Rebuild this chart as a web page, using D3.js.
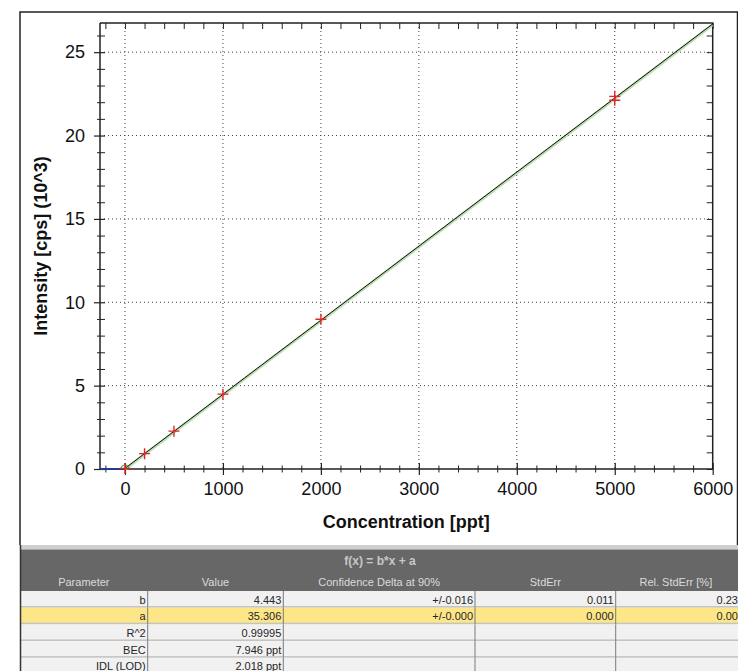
<!DOCTYPE html>
<html>
<head>
<meta charset="utf-8">
<script src="https://cdn.jsdelivr.net/npm/d3@7"></script>
<style>
  html, body { margin: 0; padding: 0; background: #fff; }
  svg { display: block; }
  text { font-family: "Liberation Sans", Arial, sans-serif; }
</style>
</head>
<body>
<svg id="chart" width="738" height="671"></svg>
<script>
// Calibration standards: concentration [ppt] and measured intensity [10^3 cps]
const concentrations = [0, 200, 500, 1000, 2000, 5000, 5000];
const intensities    = [0.03, 0.92, 2.27, 4.49, 8.98, 22.35, 22.12];

// Linear fit f(x) = b*x + a (intensity in cps)
const fitB = 4.443;
const fitA = 35.306;

// Axis ticks
const xMajorTicks = [0, 1000, 2000, 3000, 4000, 5000, 6000];
const yMajorTicks = [0, 5, 10, 15, 20, 25];

// Fit statistics table
const tableTitle = "f(x) = b*x + a";
const tableHeaders = ["Parameter", "Value", "Confidence Delta at 90%", "StdErr", "Rel. StdErr [%]"];
const tableRows = [
  ["b", "4.443", "+/-0.016", "0.011", "0.23"],
  ["a", "35.306", "+/-0.000", "0.000", "0.00"],
  ["R^2", "0.99995", "", "", ""],
  ["BEC", "7.946 ppt", "", "", ""],
  ["IDL (LOD)", "2.018 ppt", "", "", ""]
];
const highlightedRow = 1;

const svg = d3.select("#chart");

// ---- plot geometry ----
const plot = { left: 100, right: 712.7, top: 23, bottom: 469 };

const x = d3.scaleLinear().domain([-255, 6000]).range([plot.left, plot.right]);
const y = d3.scaleLinear().domain([0, 26.75]).range([plot.bottom, plot.top]);

const xMinor = d3.range(-200, 6001, 200).filter(v => v % 1000 !== 0);
const yMinor = d3.range(1, 27, 1).filter(v => v % 5 !== 0);

// outer frame of the chart panel
svg.append("path")
  .attr("d", `M20,545 V12 H737.5 V545`)
  .attr("fill", "none").attr("stroke", "#222").attr("stroke-width", 1.5);

// dotted grid
const grid = svg.append("g").attr("stroke", "#444").attr("stroke-width", 1)
  .attr("stroke-dasharray", "1,3");
grid.selectAll(".gx").data(xMajorTicks.filter(v => v < 6000)).join("line")
  .attr("x1", d => x(d)).attr("x2", d => x(d))
  .attr("y1", plot.top).attr("y2", plot.bottom);
grid.selectAll(".gy").data(yMajorTicks.filter(v => v > 0)).join("line")
  .attr("x1", plot.left).attr("x2", plot.right)
  .attr("y1", d => y(d)).attr("y2", d => y(d));

// bottom axis (ticks crossing the line)
const axisColor = "#222";
const tickFont = "'Liberation Sans', Arial, sans-serif";
const gx = svg.append("g").attr("transform", `translate(0,${plot.bottom})`)
  .call(d3.axisBottom(x).tickValues(xMajorTicks).tickSize(6).tickPadding(7)
    .tickFormat(d3.format("d")));
gx.select(".domain").remove();
gx.selectAll(".tick line").attr("y1", -6).attr("y2", 6).attr("stroke", axisColor).attr("stroke-width", 1.2);
gx.selectAll(".tick text").attr("font-size", 18).attr("fill", "#111").attr("font-family", tickFont);
const gxm = svg.append("g").attr("transform", `translate(0,${plot.bottom})`)
  .call(d3.axisBottom(x).tickValues(xMinor).tickFormat(""));
gxm.select(".domain").remove();
gxm.selectAll(".tick line").attr("y1", -3.5).attr("y2", 3.5).attr("stroke", axisColor);

// left axis
const gy = svg.append("g").attr("transform", `translate(${plot.left},0)`)
  .call(d3.axisLeft(y).tickValues(yMajorTicks).tickSize(6).tickPadding(9).tickFormat(d3.format("d")));
gy.select(".domain").remove();
gy.selectAll(".tick line").attr("x1", -6).attr("x2", 5).attr("stroke", axisColor).attr("stroke-width", 1.2);
gy.selectAll(".tick text").attr("font-size", 18).attr("fill", "#111").attr("font-family", tickFont);
const gym = svg.append("g").attr("transform", `translate(${plot.left},0)`)
  .call(d3.axisLeft(y).tickValues(yMinor).tickFormat(""));
gym.select(".domain").remove();
gym.selectAll(".tick line").attr("x1", -3).attr("x2", 5).attr("stroke", axisColor);

// top axis (inward ticks)
const gt = svg.append("g").attr("transform", `translate(0,${plot.top})`)
  .call(d3.axisTop(x).tickValues(xMajorTicks.concat(xMinor)).tickFormat(""));
gt.select(".domain").remove();
gt.selectAll(".tick line").attr("y1", 0).attr("y2", 6).attr("stroke", axisColor);

// right axis (inward ticks)
const gr = svg.append("g").attr("transform", `translate(${plot.right},0)`)
  .call(d3.axisRight(y).tickValues(yMajorTicks.concat(yMinor)).tickFormat(""));
gr.select(".domain").remove();
gr.selectAll(".tick line").attr("x1", 0).attr("x2", -6).attr("stroke", axisColor);

// plot box
svg.append("path")
  .attr("d", `M${plot.left},${plot.top} V${plot.bottom} H${plot.right} V${plot.top} H${plot.left}`)
  .attr("fill", "none").attr("stroke", axisColor).attr("stroke-width", 1.5);

// baseline segment below zero concentration
svg.append("line")
  .attr("x1", x(-255)).attr("x2", x(0))
  .attr("y1", y(0)).attr("y2", y(0))
  .attr("stroke", "#1f3d8c").attr("stroke-width", 2);

// calibration line with a soft green halo
const fitLine = d3.line().x(d => x(d)).y(d => y((fitB * d + fitA) / 1000));
const fitDomain = [0, 6000];
svg.append("path").datum(fitDomain).attr("d", fitLine)
  .attr("fill", "none").attr("stroke", "#9fcf8f").attr("stroke-width", 3)
  .attr("stroke-opacity", 0.7).attr("transform", "translate(0,0.8)");
svg.append("path").datum(fitDomain).attr("d", fitLine)
  .attr("fill", "none").attr("stroke", "#111").attr("stroke-width", 1);

// blank marker at the origin
svg.append("path")
  .attr("d", d3.arc()({ innerRadius: 3.5, outerRadius: 4.5, startAngle: -Math.PI / 2, endAngle: Math.PI / 2 }))
  .attr("transform", `translate(${x(0)},${y(0)})`)
  .attr("fill", "#3a9a3a");

// standards as red crosses
const pts = concentrations.map((c, i) => ({ c, v: intensities[i] }));
svg.append("g").selectAll("path").data(pts).join("path")
  .attr("d", d => {
    const px = x(d.c), py = y(d.v);
    return `M${px - 5.5},${py} H${px + 5.5} M${px},${py - 5.5} V${py + 5.5}`;
  })
  .attr("stroke", "#e0262a").attr("stroke-width", 1.4).attr("fill", "none");

// axis titles
svg.append("text")
  .attr("x", (plot.left + plot.right) / 2).attr("y", 528)
  .attr("text-anchor", "middle").attr("font-size", 18).attr("font-weight", "bold")
  .attr("fill", "#111").text("Concentration [ppt]");
svg.append("text")
  .attr("transform", `translate(47,${(plot.top + plot.bottom) / 2}) rotate(-90)`)
  .attr("text-anchor", "middle").attr("font-size", 18).attr("font-weight", "bold")
  .attr("fill", "#111").text("Intensity [cps] (10^3)");

// ---- statistics table ----
const colEdges = [20, 147.7, 283.3, 475, 615.7, 742];
const tbl = svg.append("g");
tbl.append("rect").attr("x", 20).attr("y", 545).attr("width", 720).attr("height", 4.5).attr("fill", "#cfcfcf");
tbl.append("rect").attr("x", 20).attr("y", 549.5).attr("width", 720).attr("height", 41.5).attr("fill", "#676767");
tbl.append("text")
  .attr("x", 380).attr("y", 564.5).attr("text-anchor", "middle")
  .attr("font-family", "'Liberation Serif', 'DejaVu Serif', serif").attr("font-weight", "bold")
  .attr("font-size", 12).attr("fill", "#c8c8c8").text(tableTitle);
tbl.selectAll(".hdr").data(tableHeaders).join("text")
  .attr("x", (d, i) => (colEdges[i] + colEdges[i + 1]) / 2 + (i === 4 ? -3 : 0))
  .attr("y", 586).attr("text-anchor", "middle")
  .attr("font-size", 11).attr("fill", "#dcdcdc").text(d => d);

const rowTop = 591, rowH = 16.7;
const rows = tbl.selectAll(".row").data(tableRows).join("g")
  .attr("transform", (d, i) => `translate(0,${rowTop + i * rowH})`);
rows.append("rect").attr("x", 20).attr("y", 0).attr("width", 720).attr("height", rowH)
  .attr("fill", (d, i) => i === highlightedRow ? "#fde687" : "#f1f1f1");
rows.append("rect").attr("x", 20).attr("y", rowH - 1.7).attr("width", 720).attr("height", 1.7)
  .attr("fill", "#c4c4c4");
rows.each(function (row) {
  const g = d3.select(this);
  colEdges.slice(1, 5).forEach(cx => {
    g.append("line").attr("x1", cx).attr("x2", cx).attr("y1", 0).attr("y2", rowH)
      .attr("stroke", "#7a7a7a").attr("stroke-width", 1);
  });
  row.forEach((cell, j) => {
    g.append("text")
      .attr("x", j === 4 ? 738 : colEdges[j + 1] - 2)
      .attr("y", 12.5).attr("text-anchor", "end")
      .attr("font-size", 11).attr("fill", "#262626").text(cell);
  });
});
tbl.append("line").attr("x1", 20.5).attr("x2", 20.5).attr("y1", 545).attr("y2", 671)
  .attr("stroke", "#333").attr("stroke-width", 1.5);
</script>
</body>
</html>
